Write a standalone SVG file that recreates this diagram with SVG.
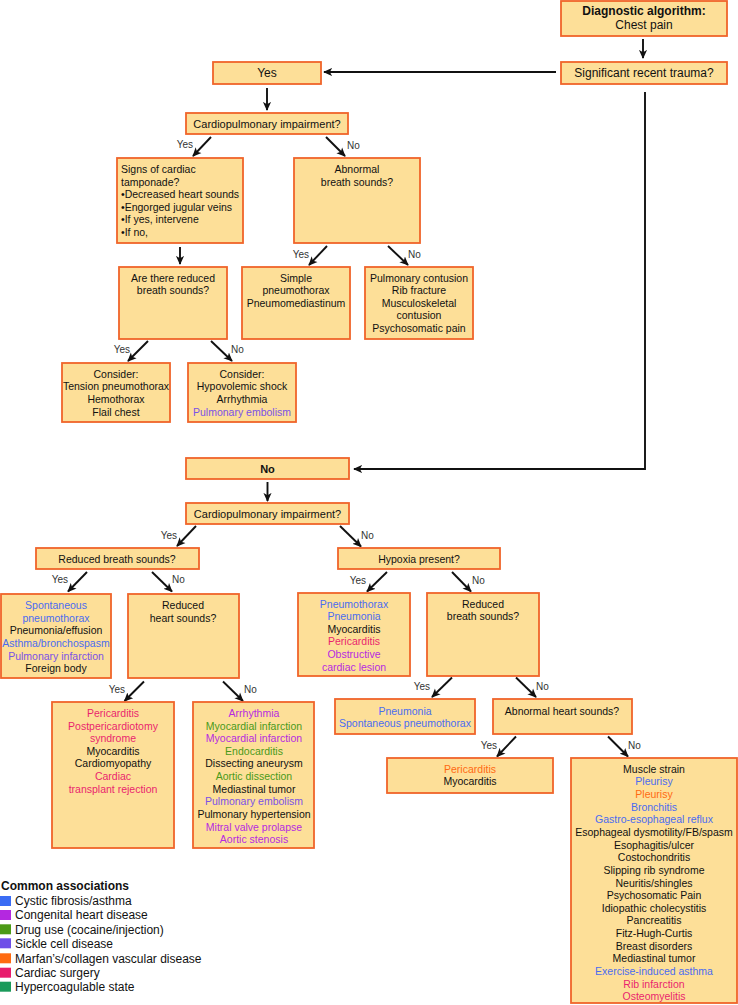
<svg xmlns="http://www.w3.org/2000/svg" width="738" height="1005" viewBox="0 0 738 1005">
<style>
.bx{fill:#fddf98;stroke:#f0642a;stroke-width:1.8}
text{font-family:"Liberation Sans",Arial,sans-serif;font-size:10.5px;fill:#111}
.c{text-anchor:middle}
.s12{font-size:12px}
.s11{font-size:11px}
.b{font-weight:bold}
.lbl{font-size:10px;fill:#333}
.e{text-anchor:end}
.bl{fill:#4a6cf0}
.vi{fill:#7a52e6}
.pu{fill:#b52ae0}
.gr{fill:#4a9a1a}
.or{fill:#ff6a12}
.pk{fill:#ea1f6e}
.tl{fill:#1a9a5a}
.cn line,.cn polyline{stroke:#111;stroke-width:1.9;fill:none;marker-end:url(#ah)}
</style>
<defs>
<marker id="ah" viewBox="0 0 10 10" refX="9" refY="5" markerUnits="userSpaceOnUse" markerWidth="9" markerHeight="9" orient="auto">
<path d="M0,0.5 L10,5 L0,9.5 L2.5,5 z" fill="#111"/>
</marker>
</defs>

<g id="connectors" class="cn">
<line x1="643" y1="39" x2="643" y2="58"/>
<line x1="556" y1="72" x2="324" y2="72"/>
<line x1="267" y1="88" x2="267" y2="110"/>
<line x1="211" y1="137" x2="193" y2="156"/>
<line x1="326" y1="137" x2="345" y2="156"/>
<line x1="180" y1="247" x2="180" y2="264"/>
<line x1="327" y1="246" x2="309" y2="265"/>
<line x1="388" y1="246" x2="408" y2="265"/>
<line x1="148" y1="341" x2="128" y2="361"/>
<line x1="211" y1="341" x2="232" y2="361"/>
<polyline points="645,92 645,469 354,469"/>
<line x1="267.5" y1="482" x2="267.5" y2="501"/>
<line x1="196" y1="526" x2="177" y2="546"/>
<line x1="340" y1="526" x2="361" y2="546.5"/>
<line x1="87" y1="572" x2="68" y2="591.5"/>
<line x1="152" y1="572" x2="172" y2="591.5"/>
<line x1="387" y1="572" x2="367" y2="591.5"/>
<line x1="452" y1="572" x2="471" y2="591.5"/>
<line x1="144" y1="681.5" x2="124.5" y2="701"/>
<line x1="223" y1="681.5" x2="243" y2="701"/>
<line x1="452" y1="677.5" x2="432" y2="697"/>
<line x1="516" y1="677.5" x2="536" y2="697"/>
<line x1="516" y1="736.5" x2="497" y2="756.5"/>
<line x1="608" y1="736.5" x2="628" y2="756.5"/>
</g>

<g id="edge-labels">
<text class="lbl e" x="193" y="148">Yes</text>
<text class="lbl" x="347" y="149">No</text>
<text class="lbl e" x="309" y="257.5">Yes</text>
<text class="lbl" x="408" y="257.5">No</text>
<text class="lbl e" x="130" y="352.5">Yes</text>
<text class="lbl" x="231" y="352.5">No</text>
<text class="lbl e" x="177" y="538.5">Yes</text>
<text class="lbl" x="361" y="538.5">No</text>
<text class="lbl e" x="68" y="583">Yes</text>
<text class="lbl" x="172" y="583">No</text>
<text class="lbl e" x="366" y="583.5">Yes</text>
<text class="lbl" x="472" y="583.5">No</text>
<text class="lbl e" x="125" y="693">Yes</text>
<text class="lbl" x="244" y="693">No</text>
<text class="lbl e" x="430" y="689.5">Yes</text>
<text class="lbl" x="536" y="689.5">No</text>
<text class="lbl e" x="497" y="748.5">Yes</text>
<text class="lbl" x="628" y="748.5">No</text>
</g>

<g id="n-start">
<rect class="bx" x="561" y="1" width="166" height="35"/>
<text class="c s12 b" x="644" y="15">Diagnostic algorithm:</text>
<text class="c s12" x="644" y="29">Chest pain</text>
</g>
<g id="n-trauma">
<rect class="bx" x="561" y="62" width="166" height="22"/>
<text class="c s12" x="644" y="77">Significant recent trauma?</text>
</g>
<g id="n-yes">
<rect class="bx" x="213" y="62" width="108" height="22"/>
<text class="c s12" x="267" y="77">Yes</text>
</g>
<g id="n-cardio1">
<rect class="bx" x="186" y="113" width="162" height="21"/>
<text class="c s11" x="267" y="127.8">Cardiopulmonary impairment?</text>
</g>
<g id="n-tamponade">
<rect class="bx" x="117" y="158" width="126" height="85"/>
<text x="121" y="173">Signs of cardiac</text>
<text x="121" y="185.6">tamponade?</text>
<text x="121" y="198.2">•Decreased heart sounds</text>
<text x="121" y="210.8">•Engorged jugular veins</text>
<text x="121" y="223.4">•If yes, intervene</text>
<text x="121" y="236">•If no,</text>
</g>
<g id="n-abnbreath">
<rect class="bx" x="294" y="158" width="126" height="85"/>
<text class="c" x="357" y="173">Abnormal</text>
<text class="c" x="357" y="185.6">breath sounds?</text>
</g>
<g id="n-arethere">
<rect class="bx" x="119" y="267" width="108" height="72"/>
<text class="c" x="173" y="281.5">Are there reduced</text>
<text class="c" x="173" y="294">breath sounds?</text>
</g>
<g id="n-simple">
<rect class="bx" x="242" y="267" width="108" height="72"/>
<text class="c" x="296" y="281.5">Simple</text>
<text class="c" x="296" y="294">pneumothorax</text>
<text class="c" x="296" y="306.5">Pneumomediastinum</text>
</g>
<g id="n-contusion">
<rect class="bx" x="365" y="267" width="108" height="72"/>
<text class="c" x="419" y="281.5">Pulmonary contusion</text>
<text class="c" x="419" y="294">Rib fracture</text>
<text class="c" x="419" y="306.5">Musculoskeletal</text>
<text class="c" x="419" y="319">contusion</text>
<text class="c" x="419" y="331.5">Psychosomatic pain</text>
</g>
<g id="n-consider1">
<rect class="bx" x="62" y="363" width="108" height="59"/>
<text class="c" x="116" y="377.8">Consider:</text>
<text class="c" x="116" y="390.4">Tension pneumothorax</text>
<text class="c" x="116" y="403">Hemothorax</text>
<text class="c" x="116" y="415.6">Flail chest</text>
</g>
<g id="n-consider2">
<rect class="bx" x="188" y="363" width="108" height="59"/>
<text class="c" x="242" y="377.8">Consider:</text>
<text class="c" x="242" y="390.4">Hypovolemic shock</text>
<text class="c" x="242" y="403">Arrhythmia</text>
<text class="c vi" x="242" y="415.6">Pulmonary embolism</text>
</g>
<g id="n-no">
<rect class="bx" x="186" y="458" width="163" height="21"/>
<text class="c s11 b" x="267.5" y="472.5">No</text>
</g>
<g id="n-cardio2">
<rect class="bx" x="186" y="503" width="163" height="21"/>
<text class="c s11" x="267.5" y="517.5">Cardiopulmonary impairment?</text>
</g>
<g id="n-redbreath1">
<rect class="bx" x="36" y="548" width="163" height="21"/>
<text class="c" x="117" y="562.6">Reduced breath sounds?</text>
</g>
<g id="n-hypoxia">
<rect class="bx" x="338" y="548" width="162" height="21"/>
<text class="c" x="419" y="562.6">Hypoxia present?</text>
</g>
<g id="n-spont">
<rect class="bx" x="1" y="594" width="110" height="84"/>
<text class="c bl" x="56" y="609">Spontaneous</text>
<text class="c bl" x="56" y="621.5">pneumothorax</text>
<text class="c" x="56" y="634.3">Pneumonia/effusion</text>
<text class="c bl" x="56" y="646.9">Asthma/bronchospasm</text>
<text class="c vi" x="56" y="659.5">Pulmonary infarction</text>
<text class="c" x="56" y="672">Foreign body</text>
</g>
<g id="n-redheart">
<rect class="bx" x="128" y="594" width="111" height="84"/>
<text class="c" x="183" y="609">Reduced</text>
<text class="c" x="183" y="621.5">heart sounds?</text>
</g>
<g id="n-pneumothorax">
<rect class="bx" x="298" y="593" width="112" height="83"/>
<text class="c bl" x="354" y="607.5">Pneumothorax</text>
<text class="c bl" x="354" y="620.1">Pneumonia</text>
<text class="c" x="354" y="632.8">Myocarditis</text>
<text class="c pk" x="354" y="645.4">Pericarditis</text>
<text class="c pu" x="354" y="658">Obstructive</text>
<text class="c pu" x="354" y="670.7">cardiac lesion</text>
</g>
<g id="n-redbreath2">
<rect class="bx" x="427" y="593" width="112" height="83"/>
<text class="c" x="483" y="607.5">Reduced</text>
<text class="c" x="483" y="620.1">breath sounds?</text>
</g>
<g id="n-pericard1">
<rect class="bx" x="52" y="702" width="122" height="146"/>
<text class="c pk" x="113" y="717">Pericarditis</text>
<text class="c pk" x="113" y="729.5">Postpericardiotomy</text>
<text class="c pk" x="113" y="742">syndrome</text>
<text class="c" x="113" y="754.7">Myocarditis</text>
<text class="c" x="113" y="767.4">Cardiomyopathy</text>
<text class="c pk" x="113" y="780">Cardiac</text>
<text class="c pk" x="113" y="792.6">transplant rejection</text>
</g>
<g id="n-arrhythmia">
<rect class="bx" x="193" y="702" width="121" height="146"/>
<text class="c pu" x="254" y="717">Arrhythmia</text>
<text class="c gr" x="254" y="729.5">Myocardial infarction</text>
<text class="c pu" x="254" y="742">Myocardial infarction</text>
<text class="c gr" x="254" y="754.7">Endocarditis</text>
<text class="c" x="254" y="767.4">Dissecting aneurysm</text>
<text class="c gr" x="254" y="780">Aortic dissection</text>
<text class="c" x="254" y="792.6">Mediastinal tumor</text>
<text class="c vi" x="254" y="805.3">Pulmonary embolism</text>
<text class="c" x="254" y="817.9">Pulmonary hypertension</text>
<text class="c pu" x="254" y="830.5">Mitral valve prolapse</text>
<text class="c pu" x="254" y="843">Aortic stenosis</text>
</g>
<g id="n-pneumonia">
<rect class="bx" x="335" y="699" width="140" height="35"/>
<text class="c bl" x="405" y="714.5">Pneumonia</text>
<text class="c bl" x="405" y="726.5">Spontaneous pneumothorax</text>
</g>
<g id="n-abnheart">
<rect class="bx" x="493" y="699" width="139" height="35"/>
<text class="c" x="562" y="714.5">Abnormal heart sounds?</text>
</g>
<g id="n-pericard2">
<rect class="bx" x="387" y="758" width="166" height="35"/>
<text class="c or" x="470" y="772.8">Pericarditis</text>
<text class="c" x="470" y="784.5">Myocarditis</text>
</g>
<g id="n-muscle">
<rect class="bx" x="571" y="758" width="166" height="245"/>
<text class="c" x="654" y="772.8">Muscle strain</text>
<text class="c bl" x="654" y="785.4">Pleurisy</text>
<text class="c or" x="654" y="798">Pleurisy</text>
<text class="c bl" x="654" y="810.7">Bronchitis</text>
<text class="c bl" x="654" y="823.3">Gastro-esophageal reflux</text>
<text class="c" x="654" y="835.9">Esophageal dysmotility/FB/spasm</text>
<text class="c" x="654" y="848.6">Esophagitis/ulcer</text>
<text class="c" x="654" y="861.2">Costochondritis</text>
<text class="c" x="654" y="873.8">Slipping rib syndrome</text>
<text class="c" x="654" y="886.5">Neuritis/shingles</text>
<text class="c" x="654" y="899.1">Psychosomatic Pain</text>
<text class="c" x="654" y="911.7">Idiopathic cholecystitis</text>
<text class="c" x="654" y="924.4">Pancreatitis</text>
<text class="c" x="654" y="937">Fitz-Hugh-Curtis</text>
<text class="c" x="654" y="949.6">Breast disorders</text>
<text class="c" x="654" y="962.3">Mediastinal tumor</text>
<text class="c bl" x="654" y="974.9">Exercise-induced asthma</text>
<text class="c pk" x="654" y="987.5">Rib infarction</text>
<text class="c pk" x="654" y="1000.1">Osteomyelitis</text>
</g>

<g id="legend">
<text class="s12 b" x="1" y="890.3">Common associations</text>
<rect x="0" y="896" width="11" height="10" fill="#3a6cf4"/>
<text class="s12" x="15" y="905.3">Cystic fibrosis/asthma</text>
<rect x="0" y="910" width="11" height="10" fill="#b428e0"/>
<text class="s12" x="15" y="919.3">Congenital heart disease</text>
<rect x="0" y="924.3" width="11" height="10" fill="#4c9a16"/>
<text class="s12" x="15" y="933.6">Drug use (cocaine/injection)</text>
<rect x="0" y="938.3" width="11" height="10" fill="#6e4ee8"/>
<text class="s12" x="15" y="947.6">Sickle cell disease</text>
<rect x="0" y="953.3" width="11" height="10" fill="#ff6a10"/>
<text class="s12" x="15" y="962.6">Marfan’s/collagen vascular disease</text>
<rect x="0" y="967.7" width="11" height="10" fill="#e81c6c"/>
<text class="s12" x="15" y="977">Cardiac surgery</text>
<rect x="0" y="981.7" width="11" height="10" fill="#1a9a5a"/>
<text class="s12" x="15" y="991">Hypercoagulable state</text>
</g>
</svg>
